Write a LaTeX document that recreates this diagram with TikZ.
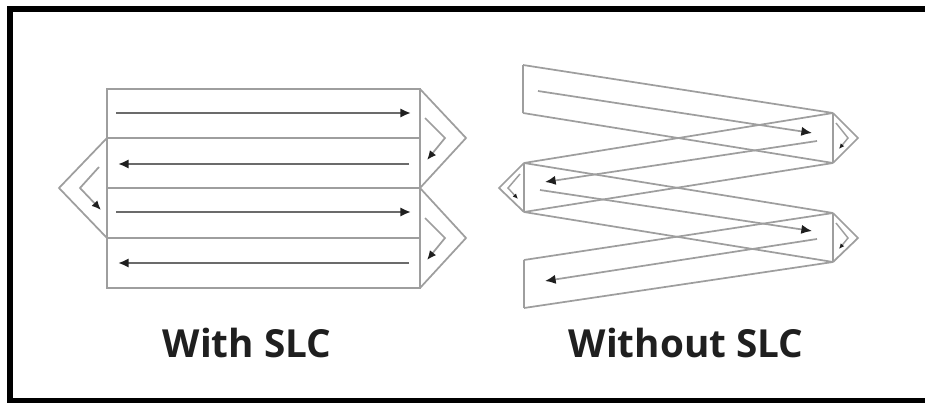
\documentclass[tikz,border=0pt]{standalone}
\usepackage{fontspec}
\setmainfont{Open Sans}
\usetikzlibrary{arrows.meta}
\definecolor{outl}{gray}{0.62}
\definecolor{arrl}{gray}{0.42}
\definecolor{tipc}{gray}{0.12}
\tikzset{
  outline/.style={draw=outl, line width=1.3pt, line join=miter},
  flow/.style={draw=arrl, line width=1.9pt, -{Latex[length=8pt,width=7pt,color=tipc]}},
  turn/.style={draw=outl, line width=1.3pt, -{Latex[length=7pt,width=6pt,color=tipc]}},
  smallturn/.style={draw=outl, line width=1.1pt, -{Latex[length=4pt,width=3.5pt,color=tipc]}},
  caption/.style={font=\bfseries\fontsize{29}{32}\selectfont, text=black!88, anchor=base, inner sep=0pt},
  frameline/.style={draw=black, line width=4.3pt}
}
\begin{document}
\begin{tikzpicture}[x=0.75pt,y=-0.75pt]
\useasboundingbox (0,0) rectangle (925,403);
% frame
\draw[frameline] (925,9) -- (10,9) -- (10,400.5) -- (925,400.5);

% ===== With SLC =====
\coordinate (ltl) at (107,89);
\coordinate (lbr) at (420,288);
\draw[outline] (ltl) rectangle (lbr);
\foreach \y in {138,188,238} \draw[outline] (107,\y) -- (420,\y);
% chevrons
\draw[outline] (420,89) -- (466,138) -- (420,188);
\draw[outline] (420,188) -- (466,238) -- (420,288);
\draw[outline] (107,138) -- (59,188) -- (107,238);
% row arrows
\coordinate (r1s) at (116,113); \coordinate (r1e) at (411,113);
\coordinate (r2s) at (409,164); \coordinate (r2e) at (118,164);
\coordinate (r3s) at (116,212); \coordinate (r3e) at (411,212);
\coordinate (r4s) at (409,263); \coordinate (r4e) at (118,263);
\draw[flow] (r1s) -- (r1e);
\draw[flow] (r2s) -- (r2e);
\draw[flow] (r3s) -- (r3e);
\draw[flow] (r4s) -- (r4e);
% turn arrows
\draw[turn] (425,118) -- (445,138) -- (427,160);
\draw[turn] (425,218) -- (445,238) -- (427,260);
\draw[turn] (99,167) -- (80,188) -- (101,210);

% ===== Without SLC =====
\draw[outline] (523,65) -- (523,113);
\draw[outline] (833,113) -- (833,163);
\draw[outline] (524,163) -- (524,212);
\draw[outline] (833,213) -- (833,262);
\draw[outline] (524,260) -- (524,308);
\draw[outline] (523,65) -- (833,113);
\draw[outline] (523,113) -- (833,163);
\draw[outline] (833,113) -- (524,163);
\draw[outline] (833,163) -- (524,212);
\draw[outline] (524,163) -- (833,213);
\draw[outline] (524,212) -- (833,262);
\draw[outline] (833,213) -- (524,260);
\draw[outline] (833,262) -- (524,308);
% strip arrows
\coordinate (s1s) at (538,91);  \coordinate (s1e) at (812,133);
\coordinate (s2s) at (817,141); \coordinate (s2e) at (545,182);
\coordinate (s3s) at (540,190); \coordinate (s3e) at (812,231);
\coordinate (s4s) at (817,239); \coordinate (s4e) at (545,281);
\draw[flow, draw=outl, line width=1.3pt] (s1s) -- (s1e);
\draw[flow, draw=outl, line width=1.3pt] (s2s) -- (s2e);
\draw[flow, draw=outl, line width=1.3pt] (s3s) -- (s3e);
\draw[flow, draw=outl, line width=1.3pt] (s4s) -- (s4e);
% small chevrons
\draw[outline] (833,113) -- (858,138) -- (833,163);
\draw[outline] (833,213) -- (858,238) -- (833,262);
\draw[outline] (524,163) -- (499,188) -- (524,212);
\draw[smallturn] (836,123) -- (848,138) -- (839,149);
\draw[smallturn] (836,223) -- (848,238) -- (839,249);
\draw[smallturn] (520,174) -- (508,188) -- (518,199);

% captions
\node[caption] (cap1) at (247,357) {With SLC};
\node[caption] (cap2) at (686,357) {Without SLC};
\end{tikzpicture}
\end{document}
